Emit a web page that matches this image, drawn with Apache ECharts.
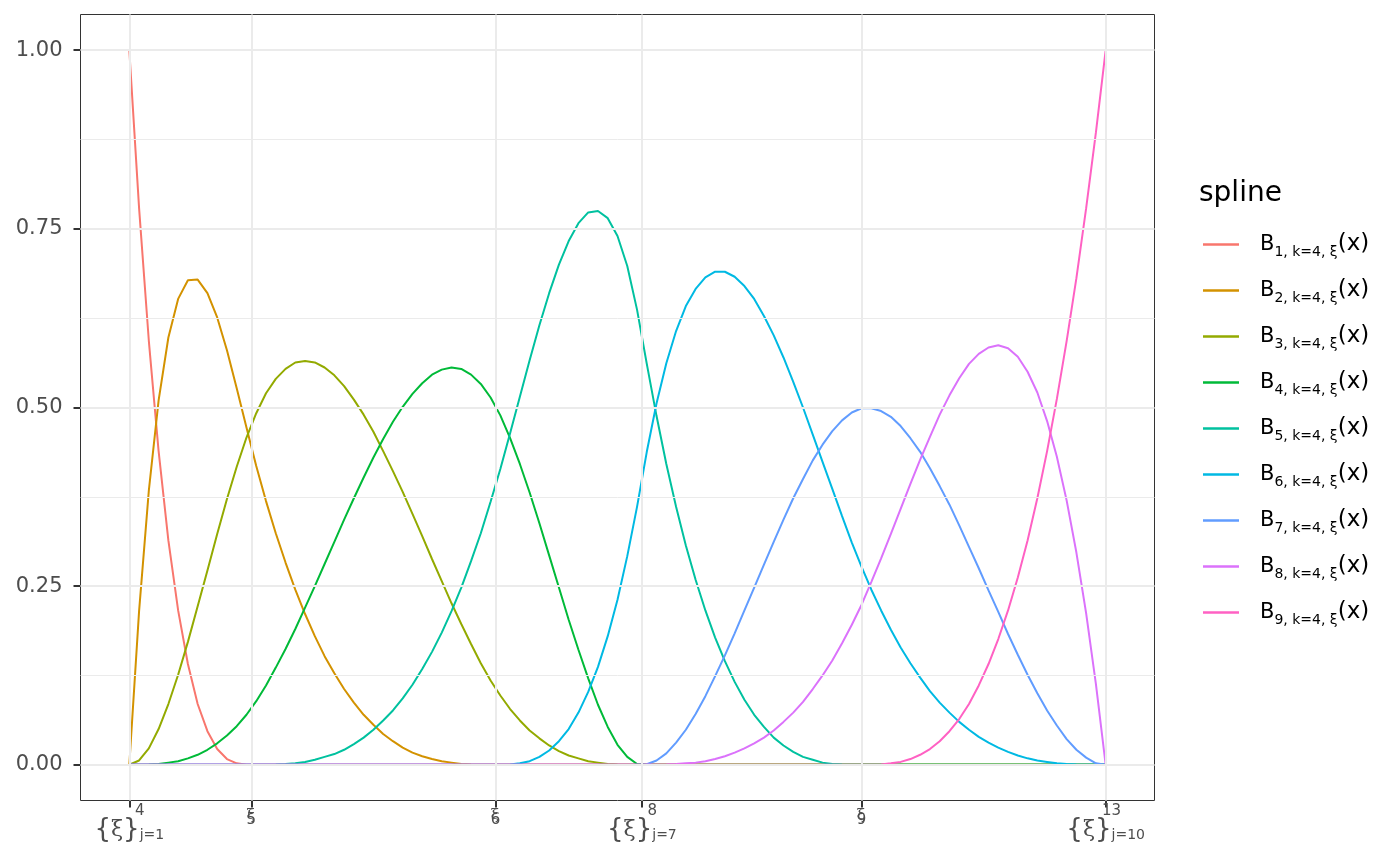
<!DOCTYPE html>
<html>
<head>
<meta charset="utf-8">
<script src="https://cdn.jsdelivr.net/npm/echarts@6/dist/echarts.min.js"></script>
<style>html,body{margin:0;padding:0;background:#fff}#c{width:1400px;height:866px}</style>
</head>
<body>
<div id="c"></div>
<script>
// ---------- data ----------
const xs = [
0,0.01,0.02,0.03,0.04,0.05,0.06,0.07,0.08,0.09,
0.10,0.11,0.12,0.13,0.14,0.15,0.16,0.17,0.18,0.19,
0.20,0.21,0.22,0.23,0.24,0.25,0.26,0.27,0.28,0.29,
0.30,0.31,0.32,0.33,0.34,0.35,0.36,0.37,0.38,0.39,
0.40,0.41,0.42,0.43,0.44,0.45,0.46,0.47,0.48,0.49,
0.50,0.51,0.52,0.53,0.54,0.55,0.56,0.57,0.58,0.59,
0.60,0.61,0.62,0.63,0.64,0.65,0.66,0.67,0.68,0.69,
0.70,0.71,0.72,0.73,0.74,0.75,0.76,0.77,0.78,0.79,
0.80,0.81,0.82,0.83,0.84,0.85,0.86,0.87,0.88,0.89,
0.90,0.91,0.92,0.93,0.94,0.95,0.96,0.97,0.98,0.99,
1.00];

const B1 = [
1,0.779,0.593,0.439,0.314,0.216,0.141,0.085,0.047,0.022,
0.008,0.002,0.0001,0,0,0,0,0,0,0,
0,0,0,0,0,0,0,0,0,0,
0,0,0,0,0,0,0,0,0,0,
0,0,0,0,0,0,0,0,0,0,
0,0,0,0,0,0,0,0,0,0,
0,0,0,0,0,0,0,0,0,0,
0,0,0,0,0,0,0,0,0,0,
0,0,0,0,0,0,0,0,0,0,
0,0,0,0,0,0,0,0,0,0,
0];
const B2 = [
0,0.215,0.384,0.510,0.598,0.652,0.678,0.679,0.660,0.626,
0.580,0.527,0.472,0.418,0.369,0.324,0.283,0.245,0.211,0.180,
0.152,0.128,0.106,0.087,0.070,0.056,0.043,0.033,0.024,0.017,
0.012,0.008,0.005,0.003,0.001,0.0004,0.0001,0,0,0,
0,0,0,0,0,0,0,0,0,0,
0,0,0,0,0,0,0,0,0,0,
0,0,0,0,0,0,0,0,0,0,
0,0,0,0,0,0,0,0,0,0,
0,0,0,0,0,0,0,0,0,0,
0,0,0,0,0,0,0,0,0,0,
0];
const B3 = [
0,0.006,0.023,0.050,0.085,0.126,0.172,0.222,0.272,0.323,
0.372,0.417,0.458,0.492,0.520,0.540,0.554,0.563,0.565,0.563,
0.556,0.545,0.530,0.511,0.490,0.466,0.439,0.411,0.382,0.351,
0.320,0.288,0.257,0.226,0.197,0.169,0.142,0.118,0.097,0.078,
0.062,0.048,0.037,0.027,0.019,0.013,0.009,0.005,0.003,0.001,
0.0005,0.0001,0,0,0,0,0,0,0,0,
0,0,0,0,0,0,0,0,0,0,
0,0,0,0,0,0,0,0,0,0,
0,0,0,0,0,0,0,0,0,0,
0,0,0,0,0,0,0,0,0,0,
0];
const B4 = [
0,0.00004,0.0003,0.001,0.003,0.005,0.009,0.014,0.021,0.030,
0.041,0.054,0.070,0.089,0.111,0.136,0.162,0.190,0.220,0.250,
0.281,0.312,0.343,0.373,0.402,0.430,0.456,0.480,0.501,0.519,
0.534,0.546,0.553,0.556,0.554,0.546,0.533,0.514,0.489,0.457,
0.421,0.381,0.338,0.293,0.248,0.203,0.161,0.121,0.084,0.053,
0.028,0.011,0.001,0,0,0,0,0,0,0,
0,0,0,0,0,0,0,0,0,0,
0,0,0,0,0,0,0,0,0,0,
0,0,0,0,0,0,0,0,0,0,
0,0,0,0,0,0,0,0,0,0,
0];
const B5 = [
0,0,0,0,0,0,0,0,0,0,
0,0,0,0,0.0001,0.0004,0.001,0.002,0.004,0.007,
0.011,0.015,0.021,0.029,0.038,0.049,0.062,0.076,0.093,0.112,
0.134,0.158,0.185,0.215,0.248,0.285,0.324,0.368,0.414,0.464,
0.515,0.566,0.615,0.660,0.700,0.733,0.758,0.773,0.775,0.765,
0.740,0.698,0.637,0.561,0.488,0.421,0.361,0.307,0.259,0.216,
0.178,0.145,0.116,0.091,0.070,0.053,0.038,0.027,0.018,0.011,
0.007,0.003,0.001,0.0004,0.0001,0,0,0,0,0,
0,0,0,0,0,0,0,0,0,0,
0,0,0,0,0,0,0,0,0,0,
0];
const B6 = [
0,0,0,0,0,0,0,0,0,0,
0,0,0,0,0,0,0,0,0,0,
0,0,0,0,0,0,0,0,0,0,
0,0,0,0,0,0,0,0,0,0.0004,
0.002,0.005,0.011,0.020,0.033,0.050,0.073,0.102,0.137,0.180,
0.231,0.292,0.361,0.438,0.506,0.562,0.607,0.642,0.666,0.682,
0.690,0.690,0.683,0.670,0.652,0.628,0.601,0.570,0.536,0.500,
0.462,0.424,0.386,0.348,0.311,0.277,0.245,0.216,0.189,0.164,
0.142,0.122,0.103,0.087,0.073,0.060,0.049,0.039,0.031,0.024,
0.018,0.013,0.009,0.006,0.004,0.002,0.001,0.0005,0.0001,0,
0];
const B7 = [
0,0,0,0,0,0,0,0,0,0,
0,0,0,0,0,0,0,0,0,0,
0,0,0,0,0,0,0,0,0,0,
0,0,0,0,0,0,0,0,0,0,
0,0,0,0,0,0,0,0,0,0,
0,0,0,0.0007,0.006,0.016,0.031,0.049,0.071,0.096,
0.124,0.153,0.184,0.216,0.248,0.280,0.312,0.343,0.373,0.400,
0.426,0.448,0.467,0.482,0.493,0.499,0.499,0.495,0.487,0.474,
0.457,0.438,0.415,0.390,0.364,0.335,0.305,0.275,0.244,0.214,
0.183,0.154,0.126,0.100,0.076,0.055,0.036,0.021,0.010,0.002,
0];
const B8 = [
0,0,0,0,0,0,0,0,0,0,
0,0,0,0,0,0,0,0,0,0,
0,0,0,0,0,0,0,0,0,0,
0,0,0,0,0,0,0,0,0,0,
0,0,0,0,0,0,0,0,0,0,
0,0,0,0,0.0001,0.0003,0.001,0.002,0.003,0.005,
0.008,0.012,0.017,0.023,0.030,0.038,0.048,0.060,0.073,0.088,
0.106,0.125,0.146,0.170,0.196,0.224,0.256,0.289,0.323,0.358,
0.393,0.427,0.459,0.490,0.517,0.541,0.561,0.575,0.584,0.587,
0.583,0.571,0.550,0.521,0.481,0.431,0.370,0.297,0.212,0.113,
0];
const B9 = [
0,0,0,0,0,0,0,0,0,0,
0,0,0,0,0,0,0,0,0,0,
0,0,0,0,0,0,0,0,0,0,
0,0,0,0,0,0,0,0,0,0,
0,0,0,0,0,0,0,0,0,0,
0,0,0,0,0,0,0,0,0,0,
0,0,0,0,0,0,0,0,0,0,
0,0,0,0,0,0,0.0001,0.0005,0.002,0.004,
0.008,0.014,0.022,0.033,0.047,0.064,0.085,0.111,0.141,0.176,
0.216,0.262,0.314,0.373,0.439,0.512,0.593,0.681,0.779,0.885,
1];

const seriesNames = ['B1','B2','B3','B4','B5','B6','B7','B8','B9'];
const legendSubs = ['1, k=4, ξ','2, k=4, ξ','3, k=4, ξ','4, k=4, ξ','5, k=4, ξ','6, k=4, ξ','7, k=4, ξ','8, k=4, ξ','9, k=4, ξ'];
const colors = ['#F8766D','#D39200','#93AA00','#00BA38','#00C19F','#00B9E3','#619CFF','#DB72FB','#FF61C3'];

// x ticks at the knots
const knotPositions = [0, 0.125, 0.375, 0.525, 0.75, 1];
const knotIsSet = [true, false, false, true, false, true];
const knotSup = ['4', '', '', '8', '', '13'];
const knotSub = ['j=1', '5', '6', 'j=7', '9', 'j=10'];

// y ticks
const yTicks = [0, 0.25, 0.5, 0.75, 1];
const yMinor = [0.125, 0.375, 0.625, 0.875];

// ---------- chart ----------
const curves = [B1,B2,B3,B4,B5,B6,B7,B8,B9];
const FONT = 'DejaVu Sans';
const SERIF = 'DejaVu Serif';
const LABEL = '#4D4D4D';
const GRID = '#EBEBEB';

const chart = echarts.init(document.getElementById('c'), null, {renderer: 'canvas'});

function fmtKnot(v) {
  let i = 0, best = Infinity;
  knotPositions.forEach((p, k) => { const d = Math.abs(p - v); if (d < best) { best = d; i = k; } });
  if (knotIsSet[i]) {
    return '{' + '{g|ξ}' + '}' + '{sup|' + knotSup[i] + '}' + '{sub|' + knotSub[i] + '}';
  }
  return '{xg|ξ}{xn|' + knotSub[i] + '}';
}

const gridMarks = []
  .concat(yTicks.map(v => ({yAxis: v, lineStyle: {color: GRID, width: 2, type: 'solid'}})))
  .concat(yMinor.map(v => ({yAxis: v, lineStyle: {color: GRID, width: 1, type: 'solid'}})))
  .concat(knotPositions.map(v => ({xAxis: v, lineStyle: {color: GRID, width: 2, type: 'solid'}})));

const series = [{
  name: '_grid', type: 'line', data: [[0, 0]], symbol: 'none', silent: true, z: 1,
  lineStyle: {opacity: 0}, animation: false,
  markLine: {silent: true, precision: 6, symbol: ['none', 'none'], animation: false, label: {show: false},
    emphasis: {disabled: true}, data: gridMarks}
}].concat(curves.map((vals, k) => ({
  name: seriesNames[k], type: 'line',
  data: xs.map((x, i) => [x, vals[i]]),
  showSymbol: false, symbol: 'none', smooth: false, z: 3, animation: false,
  lineStyle: {color: colors[k], width: 2},
  itemStyle: {color: colors[k]},
  emphasis: {disabled: true}
})));

chart.setOption({
  animation: false,
  backgroundColor: '#ffffff',
  title: {
    text: 'spline', left: 1199, top: 180, padding: 0,
    textStyle: {fontFamily: FONT, fontSize: 28, fontWeight: 'normal', color: '#000000'}
  },
  legend: {
    data: seriesNames, orient: 'vertical', left: 1203, top: 233, padding: 0,
    itemGap: 19.5, itemWidth: 36, itemHeight: 2.5, icon: 'rect', selectedMode: false,
    formatter: name => '{b|B}{s|' + legendSubs[seriesNames.indexOf(name)] + '}{x|(x)}',
    textStyle: {
      fontFamily: FONT, color: '#000000',
      rich: {
        b: {fontFamily: FONT, fontSize: 21, lineHeight: 30, color: '#000000', padding: [0, 0, 0, 16]},
        s: {fontFamily: FONT, fontSize: 14, lineHeight: 14, verticalAlign: 'bottom', color: '#000000'},
        x: {fontFamily: FONT, fontSize: 23, lineHeight: 30, color: '#000000'}
      }
    }
  },
  grid: {
    left: 80.5, right: 245.5, top: 14.5, bottom: 65.5, show: true,
    backgroundColor: '#ffffff', borderColor: '#333333', borderWidth: 1, containLabel: false
  },
  xAxis: {
    type: 'value', min: -0.05, max: 1.05,
    splitLine: {show: false}, axisLine: {show: false, onZero: false},
    axisTick: {show: true, customValues: knotPositions, length: 7, lineStyle: {color: '#333333', width: 2}},
    axisLabel: {
      customValues: knotPositions, margin: 3, formatter: fmtKnot,
      color: LABEL, fontFamily: FONT, fontSize: 26, lineHeight: 53,
      rich: {
        g: {fontFamily: SERIF, fontSize: 22, lineHeight: 53, color: LABEL},
        sup: {fontFamily: FONT, fontSize: 15, lineHeight: 15, verticalAlign: 'top', width: 0, align: 'left', color: LABEL},
        sub: {fontFamily: FONT, fontSize: 14, lineHeight: 28, verticalAlign: 'bottom', padding: [0, 0, 14, 0], color: LABEL},
        xg: {fontFamily: SERIF, fontSize: 15, lineHeight: 15, verticalAlign: 'top', width: 0, align: 'left', padding: [4, 0, 0, 0], color: LABEL},
        xn: {fontFamily: FONT, fontSize: 15, lineHeight: 24, verticalAlign: 'bottom', color: LABEL}
      }
    }
  },
  yAxis: {
    type: 'value', min: -0.05, max: 1.05,
    splitLine: {show: false}, axisLine: {show: false, onZero: false},
    axisTick: {show: true, customValues: yTicks, length: 7, lineStyle: {color: '#333333', width: 2}},
    axisLabel: {customValues: yTicks, margin: 18, formatter: v => v.toFixed(2),
      color: LABEL, fontFamily: FONT, fontSize: 21}
  },
  series: series
});
</script>
</body>
</html>
